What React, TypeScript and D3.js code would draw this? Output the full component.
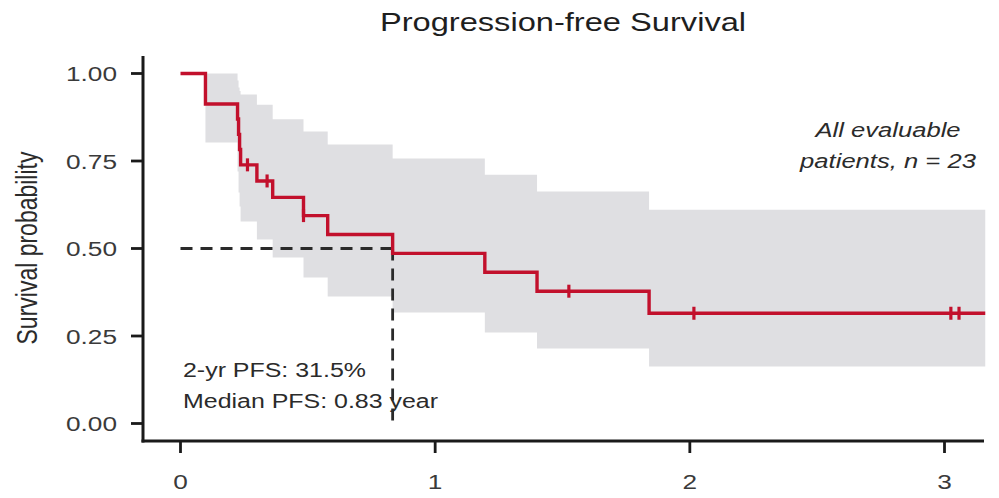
import React from "react";
import * as d3 from "d3";

// ---- data ----
const stepTimes = [0, 0.098, 0.224, 0.228, 0.232, 0.236, 0.3, 0.362, 0.483, 0.578, 0.833, 1.195, 1.4, 1.84, 3.16];
const survival = [1, 0.913, 0.87, 0.826, 0.783, 0.739, 0.693, 0.646, 0.594, 0.54, 0.486, 0.432, 0.378, 0.315, 0.315];
const lowerCI = [1, 0.803, 0.72, 0.66, 0.62, 0.577, 0.526, 0.474, 0.417, 0.363, 0.317, 0.26, 0.214, 0.163, 0.163];
const upperCI = [1, 1, 0.98, 0.96, 0.95, 0.94, 0.911, 0.869, 0.834, 0.797, 0.757, 0.711, 0.663, 0.611, 0.611];
const censorTimes = [0.263, 0.34, 0.483, 1.525, 2.016, 3.025, 3.057];
const xTicks = [0, 1, 2, 3];
const yTicks = [0, 0.25, 0.5, 0.75, 1];
const medianTime = 0.833;
const title = "Progression-free Survival";
const yLabel = "Survival probability";
const annotations = ["2-yr PFS: 31.5%", "Median PFS: 0.83 year"];
const cohortLines = ["All evaluable", "patients, n = 23"];

const W = 999;
const H = 498;
const SX = 1.28; // horizontal stretch of the reference image
const FONT = "'Liberation Sans', Arial, Helvetica, sans-serif";
const TEXT = "#2b2b2b";
const RED = "#c2102c";
const BAND = "#dfdfe2";

type Pt = { t: number; s: number; lo: number; hi: number };

function SText(props: {
  x: number;
  y: number;
  size: number;
  anchor?: string;
  italic?: boolean;
  rotate?: number;
  fill?: string;
  children: React.ReactNode;
}) {
  const { x, y, size, anchor = "start", italic, rotate, fill = TEXT, children } = props;
  return (
    <g transform={`translate(${x},${y}) scale(${SX},1)${rotate ? ` rotate(${rotate})` : ""}`}>
      <text
        textAnchor={anchor}
        fontSize={size}
        fontFamily={FONT}
        fontStyle={italic ? "italic" : "normal"}
        fill={fill}
      >
        {children}
      </text>
    </g>
  );
}

export default function App() {
  const x = d3.scaleLinear().domain([0, 3]).range([180.5, 944.5]);
  const y = d3.scaleLinear().domain([0, 1]).range([423.5, 73.5]);

  const pts: Pt[] = stepTimes.map((t, i) => ({ t, s: survival[i], lo: lowerCI[i], hi: upperCI[i] }));

  const area = d3
    .area<Pt>()
    .x((d) => x(d.t))
    .y0((d) => y(d.lo))
    .y1((d) => y(d.hi))
    .curve(d3.curveStepAfter);
  const line = d3
    .line<Pt>()
    .x((d) => x(d.t))
    .y((d) => y(d.s))
    .curve(d3.curveStepAfter);

  const censors = censorTimes.map((t) => {
    const idx = d3.bisectRight(stepTimes, t) - 1;
    return { t, s: survival[idx] };
  });

  const axisLeftX = 143;
  const axisBottomY = 441;
  const axisTopY = 56;
  const axisRightX = 984;

  return (
    <svg width={W} height={H} style={{ position: "absolute", left: 0, top: 0, background: "#fff" }}>
      <rect x={0} y={0} width={W} height={H} fill="#fff" />
      {/* CI band */}
      <path d={area(pts) || ""} fill={BAND} stroke="none" />

      {/* median lines */}
      <line
        x1={x(0)}
        x2={x(medianTime)}
        y1={y(0.5)}
        y2={y(0.5)}
        stroke="#2a2a2a"
        strokeWidth={2.8}
        strokeDasharray="12 8"
      />
      <line
        x1={x(medianTime)}
        x2={x(medianTime)}
        y1={y(0.5)}
        y2={y(0)}
        stroke="#2a2a2a"
        strokeWidth={2.8}
        strokeDasharray="12 8"
      />

      {/* survival curve */}
      <path d={line(pts) || ""} fill="none" stroke={RED} strokeWidth={3.4} strokeLinejoin="miter" />
      {censors.map((c, i) => (
        <line
          key={i}
          x1={x(c.t)}
          x2={x(c.t)}
          y1={y(c.s) - 6.5}
          y2={y(c.s) + 6.5}
          stroke={RED}
          strokeWidth={3.2}
        />
      ))}

      {/* axes */}
      <line x1={axisLeftX} x2={axisLeftX} y1={axisTopY} y2={axisBottomY + 1.5} stroke="#1a1a1a" strokeWidth={3} />
      <line x1={axisLeftX - 1.5} x2={axisRightX} y1={axisBottomY} y2={axisBottomY} stroke="#1a1a1a" strokeWidth={3} />
      {yTicks.map((v) => (
        <g key={v}>
          <line x1={axisLeftX - 12} x2={axisLeftX} y1={y(v)} y2={y(v)} stroke="#1a1a1a" strokeWidth={2.8} />
          <SText x={117} y={y(v) + 7.5} size={20.5} anchor="end" fill="#3a3a3a">
            {d3.format(".2f")(v)}
          </SText>
        </g>
      ))}
      {xTicks.map((v) => (
        <g key={v}>
          <line x1={x(v)} x2={x(v)} y1={axisBottomY} y2={axisBottomY + 12} stroke="#1a1a1a" strokeWidth={2.8} />
          <SText x={x(v)} y={489} size={20.5} anchor="middle" fill="#3a3a3a">
            {String(v)}
          </SText>
        </g>
      ))}

      {/* texts */}
      <SText x={563} y={31} size={25.5} anchor="middle" fill="#1e1e1e">
        {title}
      </SText>
      <SText x={37} y={248} size={23} anchor="middle" rotate={-90}>
        {yLabel}
      </SText>
      {annotations.map((a, i) => (
        <SText key={a} x={183} y={377 + i * 31} size={19.5}>
          {a}
        </SText>
      ))}
      {cohortLines.map((a, i) => (
        <SText key={a} x={888} y={137 + i * 31} size={20} anchor="middle" italic>
          {a}
        </SText>
      ))}
    </svg>
  );
}
